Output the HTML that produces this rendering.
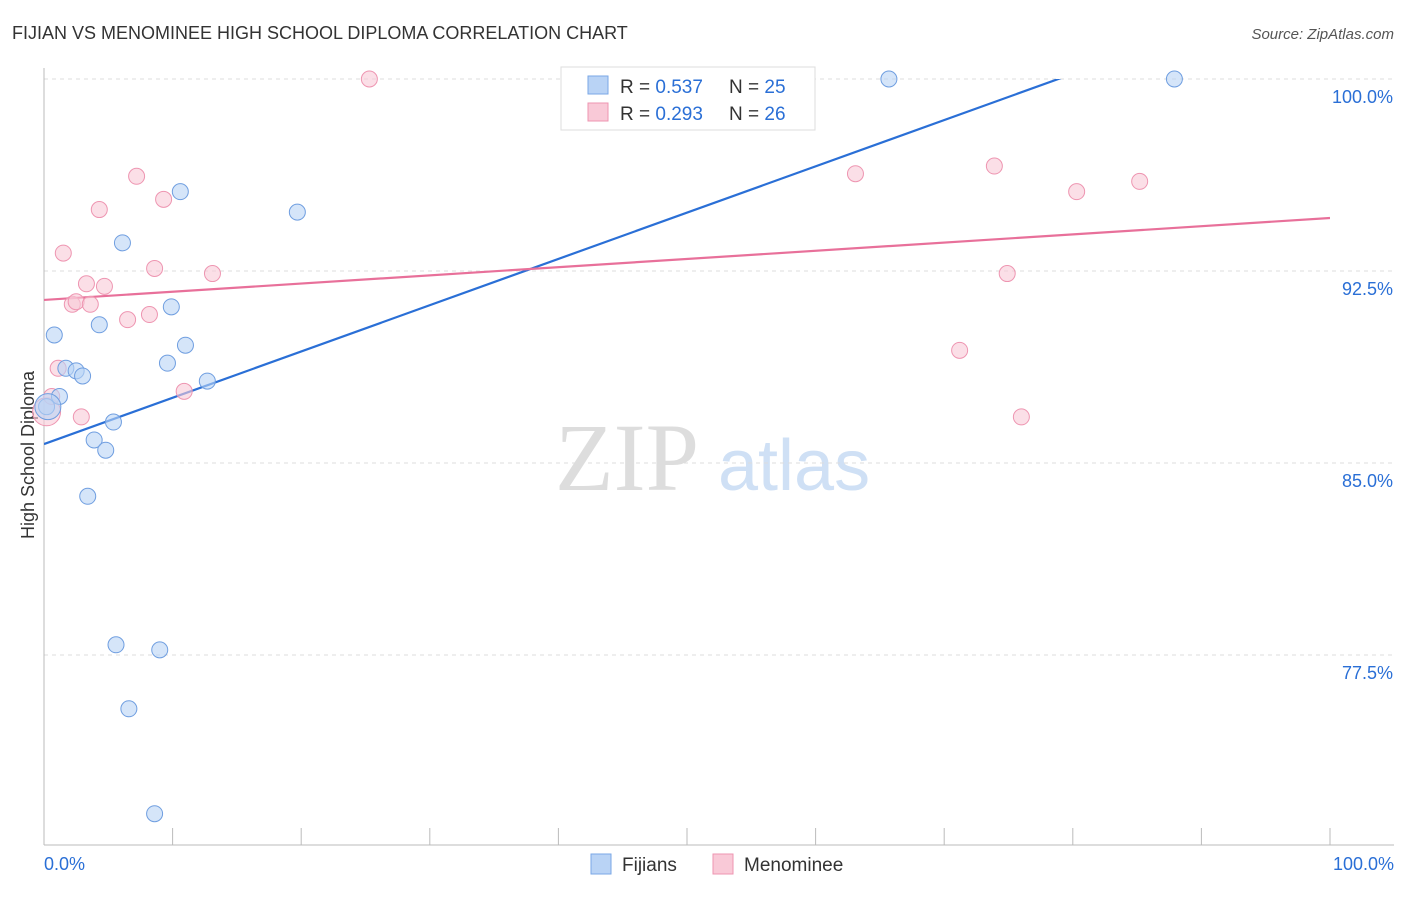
<!DOCTYPE html>
<html><head><meta charset="utf-8"><style>
body{margin:0;background:#fff;font-family:"Liberation Sans",sans-serif}
</style></head><body>
<svg id="chart" width="1406" height="892" xmlns="http://www.w3.org/2000/svg" font-family="Liberation Sans, sans-serif">
<text x="12" y="39" font-size="18" fill="#333">FIJIAN VS MENOMINEE HIGH SCHOOL DIPLOMA CORRELATION CHART</text>
<text x="1394" y="39" font-size="15" fill="#555" text-anchor="end" font-style="italic">Source: ZipAtlas.com</text>
<text x="555" y="490" font-size="96" fill="#ddd" font-family="Liberation Serif, serif">ZIP</text>
<text x="718" y="490" font-size="72" fill="#cfe0f5">atlas</text>
<text transform="translate(34,455) rotate(-90)" font-size="18" fill="#333" text-anchor="middle">High School Diploma</text>
<g id="grid"></g><g id="axes"></g>
<defs><clipPath id="plotclip"><rect x="44" y="79" width="1286" height="766"/></clipPath></defs>
<g id="lines" clip-path="url(#plotclip)"></g>
<g id="points"></g>
<g>
<rect x="561" y="67" width="254" height="63" fill="#fff" stroke="#ddd"/>
<rect x="588" y="76" width="20" height="18" fill="#b9d3f5" stroke="#7aa7e6"/>
<text x="620" y="93" font-size="19" fill="#333">R = <tspan fill="#2a6fd6">0.537</tspan></text>
<text x="729" y="93" font-size="19" fill="#333">N = <tspan fill="#2a6fd6">25</tspan></text>
<rect x="588" y="103" width="20" height="18" fill="#f9c9d7" stroke="#ee95b1"/>
<text x="620" y="120" font-size="19" fill="#333">R = <tspan fill="#2a6fd6">0.293</tspan></text>
<text x="729" y="120" font-size="19" fill="#333">N = <tspan fill="#2a6fd6">26</tspan></text>
</g>
<g>
<rect x="591" y="854" width="20" height="20" fill="#b9d3f5" stroke="#7aa7e6"/>
<text x="622" y="871" font-size="19" fill="#333">Fijians</text>
<rect x="713" y="854" width="20" height="20" fill="#f9c9d7" stroke="#ee95b1"/>
<text x="744" y="871" font-size="19" fill="#333">Menominee</text>
</g>
</svg>
<script>
const yTicks=[77.5,85.0,92.5,100.0];
const blueX=[10.6,19.7,6.1,9.9,4.3,0.8,11.0,9.6,1.7,2.5,3.0,12.7,1.2,0.2,5.4,3.9,4.8,3.4,5.6,9.0,6.6,8.6,65.7,87.9,0.3];
const blueY=[95.6,94.8,93.6,91.1,90.4,90.0,89.6,88.9,88.7,88.6,88.4,88.2,87.6,87.2,86.6,85.9,85.5,83.7,77.9,77.7,75.4,71.3,100.0,100.0,87.2];
const pinkX=[25.3,7.2,4.3,9.3,1.5,8.6,13.1,3.3,4.7,2.2,2.5,3.6,8.2,6.5,1.1,10.9,2.9,0.2,63.1,73.9,80.3,85.2,74.9,71.2,76.0,0.6];
const pinkY=[100.0,96.2,94.9,95.3,93.2,92.6,92.4,92.0,91.9,91.2,91.3,91.2,90.8,90.6,88.7,87.8,86.8,87.0,96.3,96.6,95.6,96.0,92.4,89.4,86.8,87.6];
const blueLine=[85.74,103.82];
const pinkLine=[91.37,94.57];
const X=v=>44+v*12.86, Y=v=>79+(100-v)*25.6;
const ns="http://www.w3.org/2000/svg";
function mk(t,a,p){const e=document.createElementNS(ns,t);for(const k in a)e.setAttribute(k,a[k]);p.appendChild(e);return e;}
const grid=document.getElementById('grid'),axes=document.getElementById('axes');
yTicks.forEach(t=>{
 const l=mk('line',{x1:44,x2:1394,y1:Y(t),y2:Y(t),stroke:'#ddd','stroke-dasharray':'4,4'},grid);
 
 
 const tx=mk('text',{x:1393,y:Y(t)+24,'font-size':18,fill:'#2a6fd6','text-anchor':'end'},axes);
 tx.textContent=t.toFixed(1)+'%';
 
 
});
const ya=mk('line',{x1:44,x2:44,y1:68,y2:845,stroke:'#bbb'},axes);


const xa=mk('line',{x1:44,x2:1394,y1:845,y2:845,stroke:'#bbb'},axes);


for(let i=1;i<=10;i++){const t=mk('line',{x1:X(i*10),x2:X(i*10),y1:828,y2:845,stroke:'#bbb'},axes);
 
 }
[[0,'0.0%','start',44],[100,'100.0%','end',1394]].forEach(d=>{const t=mk('text',{x:d[3],y:870,'font-size':18,fill:'#2a6fd6','text-anchor':d[2]},axes);t.textContent=d[1];
 
 });
const lines=document.getElementById('lines'),pts=document.getElementById('points');
const bl=mk('line',{x1:X(0),y1:Y(blueLine[0]),x2:X(100),y2:Y(blueLine[1]),stroke:'#2a6fd6','stroke-width':2.2},lines);


const pl=mk('line',{x1:X(0),y1:Y(pinkLine[0]),x2:X(100),y2:Y(pinkLine[1]),stroke:'#e8709a','stroke-width':2.2},lines);


pinkX.forEach((x,i)=>{const big=i==17;const c=mk('circle',{cx:X(x),cy:Y(pinkY[i]),r:big?14:8,fill:'#f9c9d7','fill-opacity':0.6,stroke:'#ee95b1'},pts);
 
 });
blueX.forEach((x,i)=>{const big=i==24;const c=mk('circle',{cx:X(x),cy:Y(blueY[i]),r:big?13:8,fill:'#b9d3f5','fill-opacity':0.6,stroke:'#6f9ee0'},pts);
 
 });
</script>
</body></html>
